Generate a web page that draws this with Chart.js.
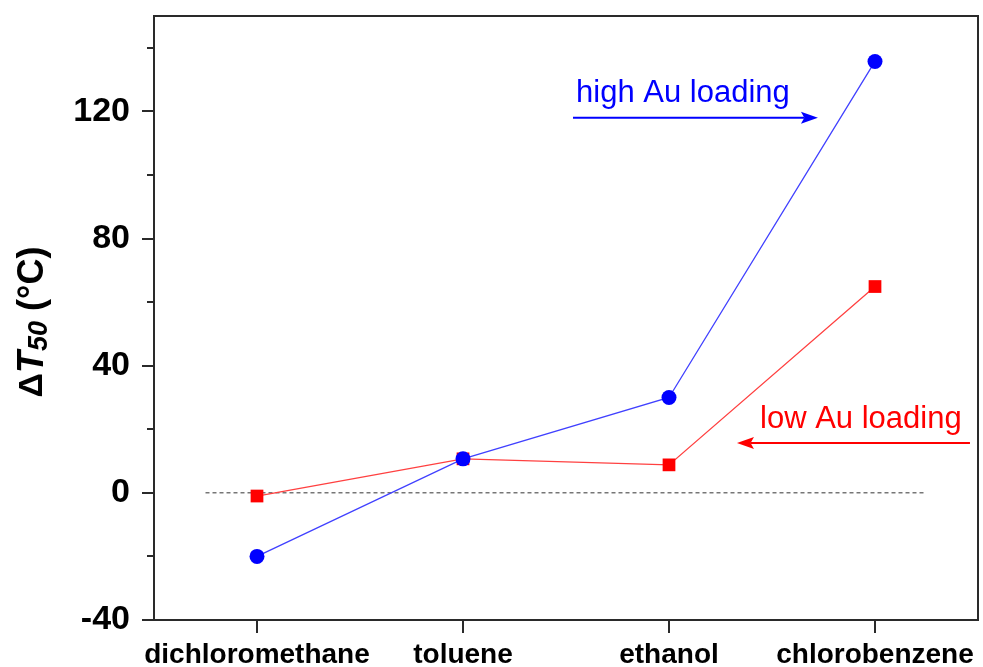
<!DOCTYPE html>
<html><head><meta charset="utf-8">
<script src="https://cdn.jsdelivr.net/npm/chart.js@4"></script>
<style>html,body{margin:0;padding:0;background:#fff}#wrap{width:983px;height:667px}</style>
</head><body><div id="wrap"><canvas id="c" width="983" height="667"></canvas></div>
<script>
// ---- data ----
const categories = ['dichloromethane', 'toluene', 'ethanol', 'chlorobenzene'];
const highAu = [-20, 10.7, 30, 135.7];
const lowAu = [-1, 10.7, 8.8, 64.9];
const yMajorTicks = [-40, 0, 40, 80, 120];
const yMinorTicks = [-20, 20, 60, 100, 140];
const zeroLineX = [-0.25, 3.25];
const zeroLineY = [0, 0];

const FONT = "'Liberation Sans', Arial, Helvetica, sans-serif";
const AXIS_COLOR = '#2a2a2a';

// annotations (in data units)
const annotations = [
  {text: 'high Au loading', color: '#0000ff', tx: 1.549, ty: 122.9, ax1: 1.534, ax2: 2.723, ay: 118},
  {text: 'low Au loading', color: '#ff0000', tx: 2.442, ty: 20.4, ax1: 3.461, ax2: 2.330, ay: 15.7}
];

const framePlugin = {
  id: 'frame',
  afterDraw(chart) {
    const {ctx, chartArea: a, scales} = chart;
    ctx.save();
    ctx.strokeStyle = AXIS_COLOR;
    ctx.lineWidth = 2;
    ctx.strokeRect(a.left, a.top, a.right - a.left, a.bottom - a.top);
    // minor ticks
    ctx.beginPath();
    yMinorTicks.forEach(v => {
      const y = Math.round(scales.y.getPixelForValue(v));
      ctx.moveTo(a.left - 7, y);
      ctx.lineTo(a.left, y);
    });
    ctx.stroke();
    // y title
    ctx.translate(33, (a.top + a.bottom) / 2 + 4);
    ctx.rotate(-Math.PI / 2);
    ctx.fillStyle = '#000';
    ctx.textBaseline = 'middle';
    const parts = [
      {t: '\u0394', f: 'bold 34px ' + FONT, dy: 0},
      {t: 'T', f: 'italic bold 36px ' + FONT, dy: 0},
      {t: '50', f: 'italic bold 27px ' + FONT, dy: 7},
      {t: ' (\u00B0C)', f: 'bold 36px ' + FONT, dy: 0}
    ];
    let total = 0;
    parts.forEach(p => { ctx.font = p.f; p.w = ctx.measureText(p.t).width; total += p.w; });
    let x = -total / 2;
    parts.forEach(p => { ctx.font = p.f; ctx.fillText(p.t, x, p.dy); x += p.w; });
    ctx.restore();
  },
  afterDatasetsDraw(chart) {
    const {ctx, scales} = chart;
    ctx.save();
    annotations.forEach(an => {
      const xs = scales.x, ys = scales.y;
      ctx.fillStyle = an.color;
      ctx.strokeStyle = an.color;
      ctx.font = '31px ' + FONT;
      ctx.textBaseline = 'alphabetic';
      ctx.textAlign = 'left';
      ctx.fillText(an.text, xs.getPixelForValue(an.tx), ys.getPixelForValue(an.ty));
      const x1 = xs.getPixelForValue(an.ax1), x2 = xs.getPixelForValue(an.ax2);
      const y = ys.getPixelForValue(an.ay);
      const dir = Math.sign(x2 - x1);
      const headLen = 17, headW = 6;
      ctx.lineWidth = 2;
      ctx.beginPath();
      ctx.moveTo(x1, y);
      ctx.lineTo(x2 - dir * headLen * 0.8, y);
      ctx.stroke();
      ctx.beginPath();
      ctx.moveTo(x2, y);
      ctx.lineTo(x2 - dir * headLen, y - headW);
      ctx.lineTo(x2 - dir * headLen * 0.8, y);
      ctx.lineTo(x2 - dir * headLen, y + headW);
      ctx.closePath();
      ctx.fill();
    });
    ctx.restore();
  }
};

const toPts = (arr) => arr.map((v, i) => ({x: i, y: v}));

new Chart(document.getElementById('c'), {
  type: 'line',
  data: {
    datasets: [
      {
        label: 'high Au loading',
        data: toPts(highAu),
        borderColor: '#4040ff',
        borderWidth: 1.3,
        pointStyle: 'circle',
        pointRadius: 7.5,
        pointBackgroundColor: '#0000ff',
        pointBorderColor: '#0000ff',
        pointBorderWidth: 0,
        tension: 0
      },
      {
        label: 'low Au loading',
        data: toPts(lowAu),
        borderColor: '#ff4040',
        borderWidth: 1.3,
        pointStyle: 'rect',
        pointRadius: 9,
        pointBackgroundColor: '#ff0000',
        pointBorderColor: '#ff0000',
        pointBorderWidth: 0,
        tension: 0
      },
      {
        label: 'zero',
        data: zeroLineX.map((x, i) => ({x, y: zeroLineY[i]})),
        borderColor: '#333',
        borderWidth: 1,
        borderDash: [4, 3],
        pointRadius: 0
      }
    ]
  },
  options: {
    responsive: false,
    animation: false,
    layout: {autoPadding: false, padding: {left: 0, top: 16, right: 5, bottom: 0}},
    plugins: {legend: {display: false}, tooltip: {enabled: false}, title: {display: false}},
    scales: {
      x: {
        type: 'linear',
        min: -0.5,
        max: 3.5,
        afterBuildTicks(scale) { scale.ticks = categories.map((c, i) => ({value: i})); },
        afterFit(scale) { scale.height = 47; scale.paddingLeft = 0; scale.paddingRight = 0; },
        ticks: {
          callback: (v) => categories[v],
          color: '#000',
          font: {family: FONT, size: 28, weight: 'bold'},
          padding: 5,
          maxRotation: 0,
          autoSkip: false
        },
        grid: {drawOnChartArea: false, drawTicks: true, tickLength: 13, color: AXIS_COLOR, lineWidth: 2},
        border: {display: true, color: AXIS_COLOR, width: 2}
      },
      y: {
        type: 'linear',
        min: -40,
        max: 150,
        afterBuildTicks(scale) { scale.ticks = yMajorTicks.map(v => ({value: v})); },
        afterFit(scale) { scale.width = 154; scale.paddingTop = 0; scale.paddingBottom = 0; },
        ticks: {
          color: '#000',
          font: {family: FONT, size: 34, weight: 'bold'},
          padding: 12
        },
        grid: {drawOnChartArea: false, drawTicks: true, tickLength: 12, color: AXIS_COLOR, lineWidth: 2},
        border: {display: true, color: AXIS_COLOR, width: 2}
      }
    }
  },
  plugins: [framePlugin]
});
</script>
</body></html>
